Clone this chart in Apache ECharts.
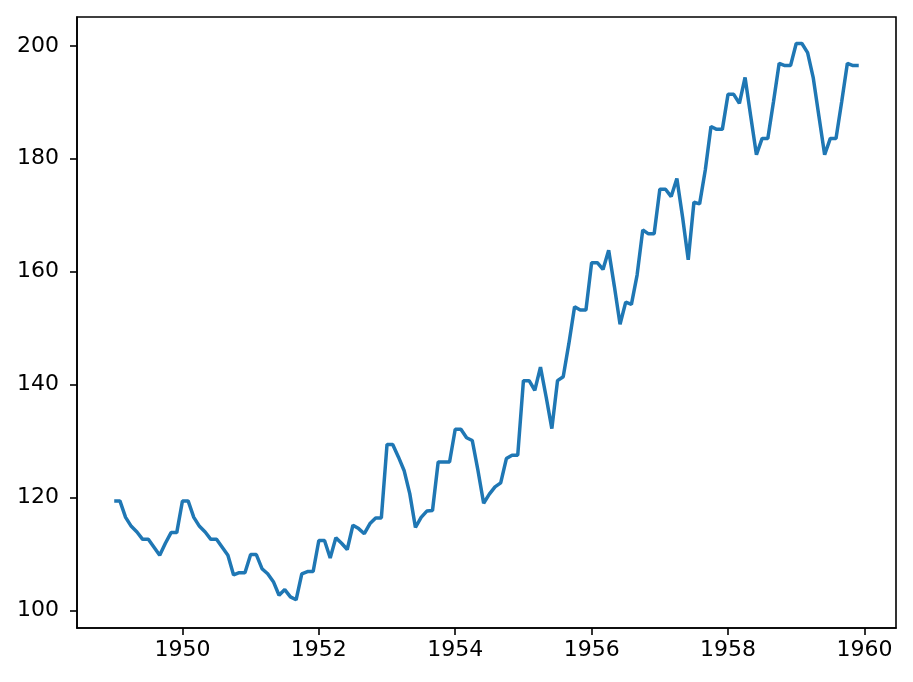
<!DOCTYPE html>
<html>
<head>
<meta charset="utf-8">
<script src="https://cdn.jsdelivr.net/npm/echarts@6/dist/echarts.min.js"></script>
<style>
  html, body { margin: 0; padding: 0; background: #fff; }
  #chart { width: 913px; height: 682px; }
</style>
</head>
<body>
<div id="chart"></div>
<script>
  // monthly series, Jan 1949 .. Dec 1959
  const startYear = 1949;
  const values = [
    119.4, 119.4, 116.5, 114.9, 113.9, 112.6, 112.6, 111.2, 109.8, 111.9, 113.8, 113.8,
    119.4, 119.4, 116.5, 114.9, 113.9, 112.6, 112.6, 111.2, 109.8, 106.3, 106.7, 106.7,
    109.9, 109.9, 107.4, 106.5, 105.1, 102.7, 103.7, 102.4, 101.9, 106.5, 106.9, 106.9,
    112.4, 112.4, 109.3, 112.9, 111.9, 110.8, 115.1, 114.5, 113.6, 115.4, 116.4, 116.4,
    129.4, 129.4, 127.2, 124.8, 120.7, 114.7, 116.5, 117.6, 117.7, 126.3, 126.3, 126.3,
    132.1, 132.1, 130.6, 130.1, 124.8, 119.0, 120.6, 121.9, 122.6, 126.9, 127.5, 127.5,
    140.7, 140.7, 139.0, 143.1, 137.8, 132.2, 140.7, 141.4, 147.3, 153.8, 153.2, 153.2,
    161.6, 161.6, 160.4, 163.8, 157.4, 150.7, 154.6, 154.2, 159.4, 167.4, 166.7, 166.7,
    174.6, 174.6, 173.3, 176.5, 169.7, 162.1, 172.3, 172.0, 178.0, 185.7, 185.2, 185.2,
    191.4, 191.4, 189.8, 194.4, 187.5, 180.7, 183.6, 183.6, 190.1, 196.9, 196.5, 196.5,
    200.4, 200.4, 198.8, 194.3, 187.5, 180.7, 183.6, 183.6, 190.1, 196.9, 196.5, 196.5,
  ];
  const xTicks = [1950, 1952, 1954, 1956, 1958, 1960];
  const yTicks = [100, 120, 140, 160, 180, 200];

  const points = values.map((v, i) => [startYear + i / 12, v]);

  const font = { fontFamily: 'DejaVu Sans', fontSize: 22, color: '#000' };
  const axisLine = { show: true, onZero: false, lineStyle: { color: '#000', width: 1.6 } };
  const axisTick = { show: true, length: 7, lineStyle: { color: '#000', width: 1.6 } };

  const chart = echarts.init(document.getElementById('chart'));
  chart.setOption({
    animation: false,
    backgroundColor: '#fff',
    grid: {
      left: 77,
      top: 17,
      right: 17,
      bottom: 54,
      show: true,
      borderColor: '#000',
      borderWidth: 1.6,
    },
    xAxis: {
      type: 'value',
      min: 1948.454,
      max: 1960.463,
      axisLine,
      axisTick: { ...axisTick, customValues: xTicks },
      axisLabel: { ...font, margin: 11, customValues: xTicks, formatter: (v) => String(v) },
      splitLine: { show: false },
    },
    yAxis: {
      type: 'value',
      min: 96.9,
      max: 205.1,
      axisLine,
      axisTick: { ...axisTick, customValues: yTicks },
      axisLabel: { ...font, margin: 18, customValues: yTicks },
      splitLine: { show: false },
    },
    series: [
      {
        type: 'line',
        data: points,
        showSymbol: false,
        lineStyle: { color: '#1f77b4', width: 3.5 },
        itemStyle: { color: '#1f77b4' },
      },
    ],
  });
</script>
</body>
</html>
